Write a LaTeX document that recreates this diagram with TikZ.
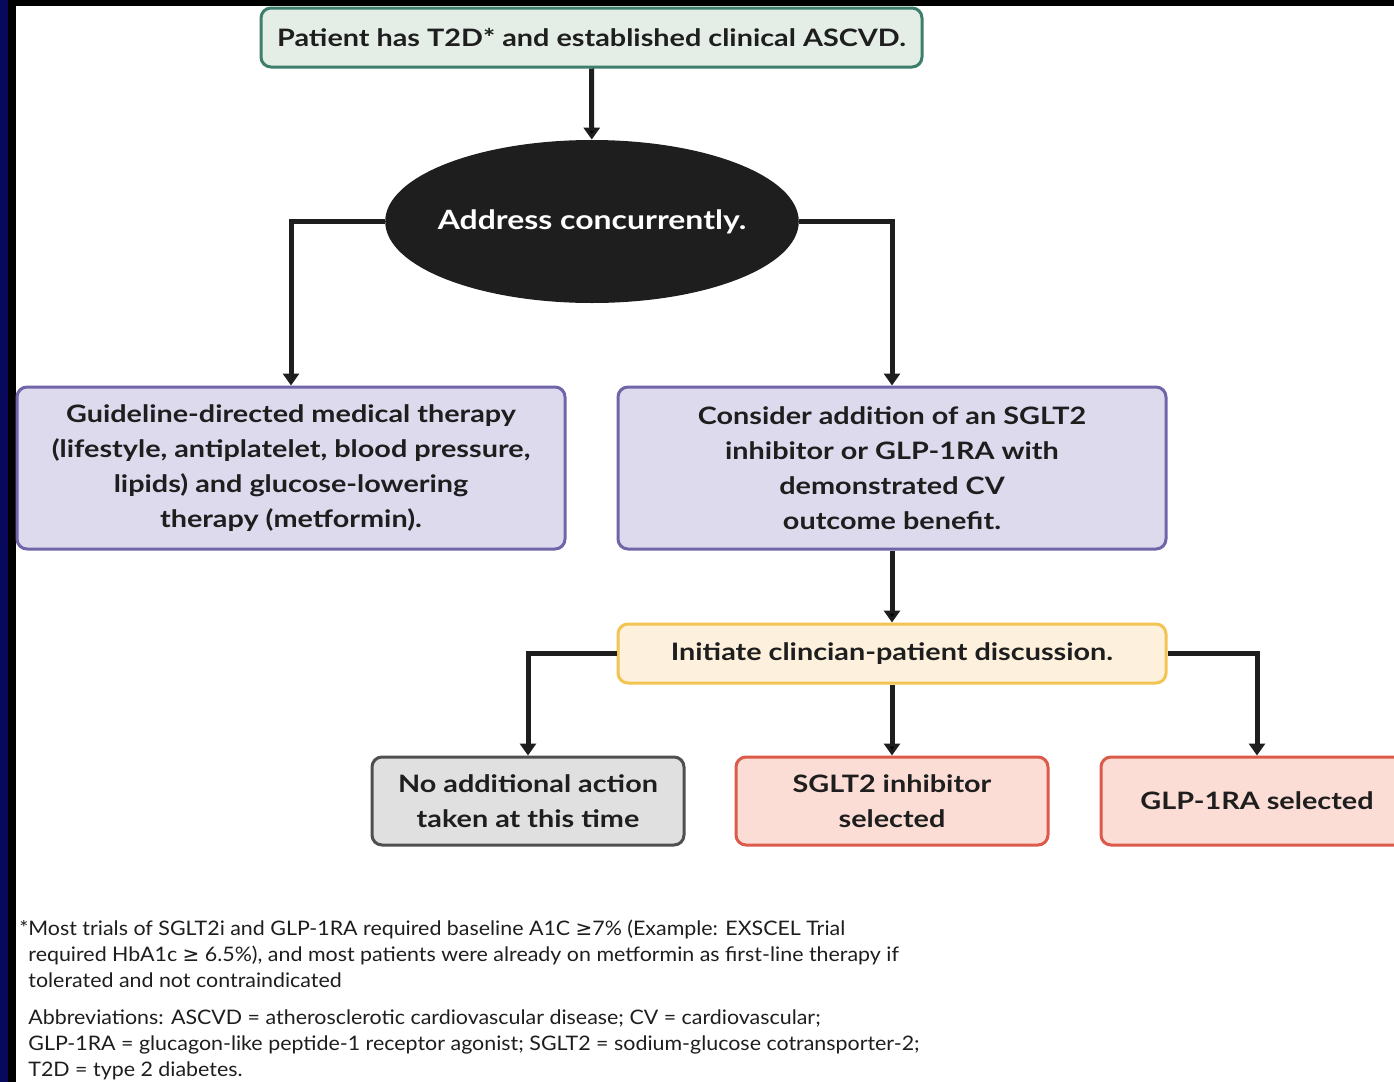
\documentclass[tikz,border=0pt]{standalone}
\usepackage{fontspec}
\setmainfont{Lato}
\newfontfamily\boxfont[FakeStretch=1.2]{Lato}
\newfontfamily\symfont{DejaVu Sans}
\newfontfamily\notefont[FakeStretch=1.07]{Lato}
\usetikzlibrary{shapes.geometric,arrows.meta}

\definecolor{ink}{HTML}{1E1E1E}
\definecolor{navystrip}{HTML}{08085C}
\definecolor{tealline}{HTML}{3D7F6C}
\definecolor{tealfill}{HTML}{E4EEE7}
\definecolor{violetline}{HTML}{7264A8}
\definecolor{violetfill}{HTML}{DDDAEE}
\definecolor{amberline}{HTML}{F3C451}
\definecolor{amberfill}{HTML}{FDF1DE}
\definecolor{greyline}{HTML}{4F4F4F}
\definecolor{greyfill}{HTML}{E0E0E0}
\definecolor{coralline}{HTML}{DC5A4A}
\definecolor{coralfill}{HTML}{FBDDD5}

\begin{document}
\begin{tikzpicture}[x=0.5pt,y=-0.5pt,>={Triangle[length=6pt,width=8pt]},
    conn/.style={->,line width=2.5pt,draw=ink},
    box/.style={rectangle,rounded corners=5pt,draw,line width=1.5pt,inner sep=0pt,align=center,text=ink,font=\boxfont\bfseries\fontsize{12}{17.5}\selectfont},
    start box/.style={box,draw=tealline,fill=tealfill,minimum width=330.5pt,minimum height=29.5pt},
    plan box/.style={box,draw=violetline,fill=violetfill,minimum width=274pt,minimum height=81pt},
    talk box/.style={box,draw=amberline,fill=amberfill,minimum width=274pt,minimum height=29.5pt},
    none box/.style={box,draw=greyline,fill=greyfill,minimum width=156pt,minimum height=44pt},
    drug box/.style={box,draw=coralline,fill=coralfill,minimum width=156pt,minimum height=44pt},
    note/.style={anchor=north west,inner sep=0pt,align=left,text=ink,font=\notefont\fontsize{10}{13}\selectfont}]
    \clip (0,0) rectangle (1394,1082);
    \fill[white] (0,0) rectangle (1394,1082);
    \fill[navystrip] (0,0) rectangle (8,1082);
    \fill[black] (8,0) rectangle (16,1082);
    \fill[black] (8,0) rectangle (1394,6);

    \node [start box] (start) at (591.5,37.5) {Patient has T2D* and established clinical ASCVD.};
    \node [ellipse, fill=ink, inner xsep=-4pt, inner ysep=0pt, minimum width=205pt, minimum height=81.5pt, text=white, font=\boxfont\bfseries\fontsize{13.3}{15}\selectfont] (concur) at (592,221.5) {Address concurrently.};

    \node [plan box] (gdmt) at (291,468) {Guideline-directed medical therapy\\(lifestyle, antiplatelet, blood pressure,\\lipids) and glucose-lowering\\therapy (metformin).};
    \node [plan box] (addon) at (892,468) {Consider addition of an SGLT2\\inhibitor or GLP-1RA with\\demonstrated CV\\outcome benefit.};

    \node [talk box] (talk) at (892,653.5) {Initiate clincian-patient discussion.};

    \node [none box] (noaction) at (528,801) {No additional action\\taken at this time};
    \node [drug box] (sglt) at (892,801) {SGLT2 inhibitor\\selected};
    \node [drug box] (glp) at (1257,801) {GLP-1RA selected};

    \path[conn]
        (start) edge (concur)
        (addon) edge (talk)
        (talk) edge (sglt);
    \draw[conn] (concur.west) -| (gdmt.north);
    \draw[conn] (concur.east) -| (addon.north);
    \draw[conn] (talk.west) -| (noaction.north);
    \draw[conn] (talk.east) -| (glp.north);

    \node [note] (trials) at (28,920) {\llap{*}Most trials of SGLT2i and GLP-1RA required baseline A1C {\symfont ≥}7\% (Example: EXSCEL Trial\\required HbA1c {\symfont ≥} 6.5\%), and most patients were already on metformin as first-line therapy if\\tolerated and not contraindicated};
    \node [note] (abbrev) at (28,1009) {Abbreviations: ASCVD = atherosclerotic cardiovascular disease; CV = cardiovascular;\\GLP-1RA = glucagon-like peptide-1 receptor agonist; SGLT2 = sodium-glucose cotransporter-2;\\T2D = type 2 diabetes.};
\end{tikzpicture}
\end{document}
